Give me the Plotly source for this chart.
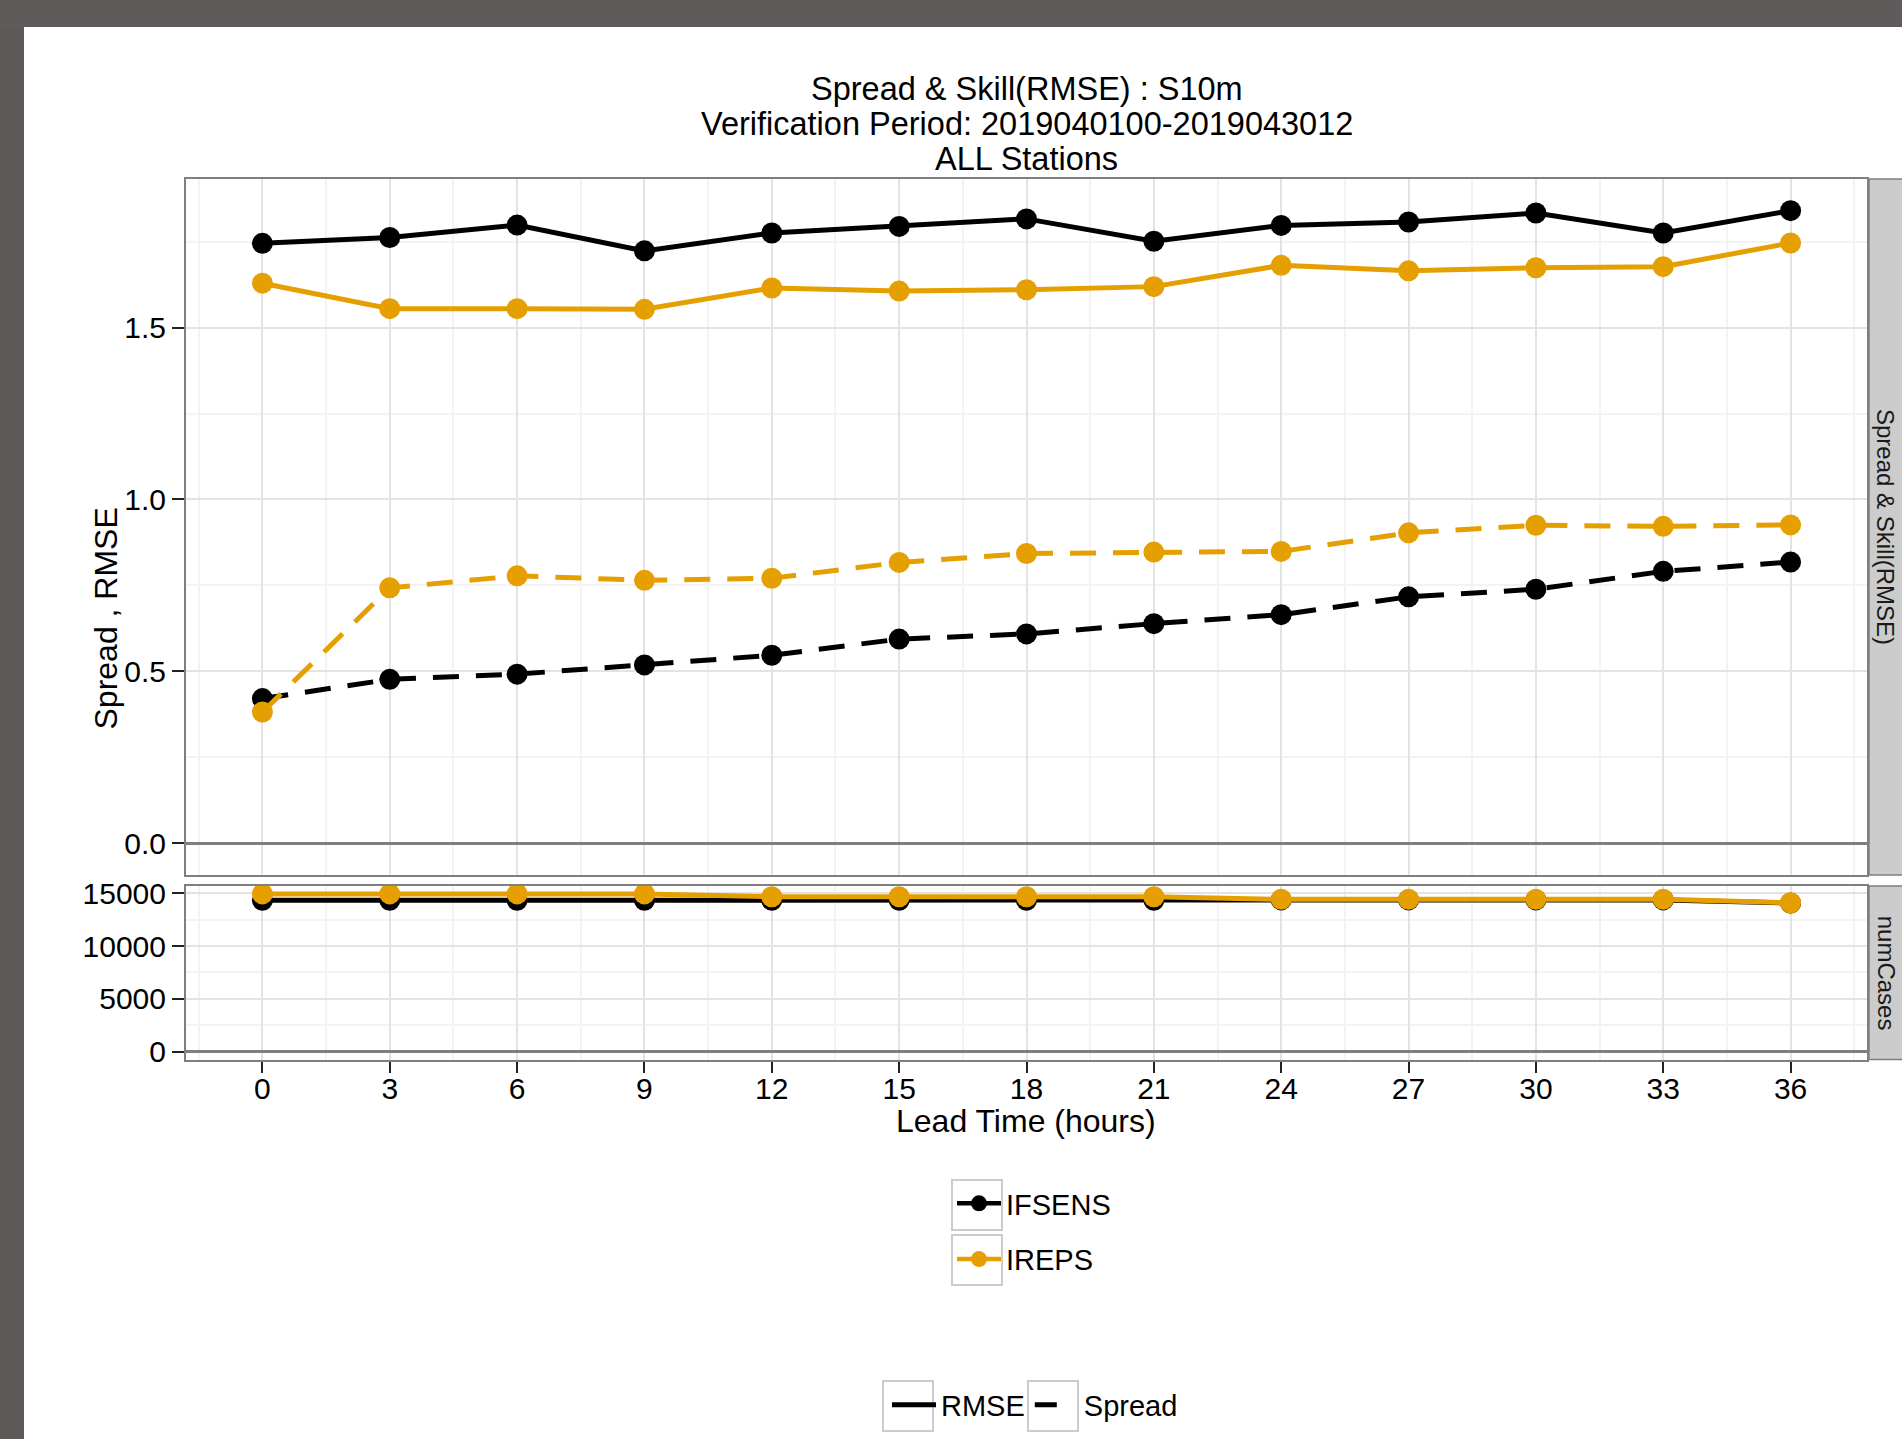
import plotly.graph_objects as go

# ---------------- data ----------------
lead_time = [0, 3, 6, 9, 12, 15, 18, 21, 24, 27, 30, 33, 36]
x_tick_vals = [0, 3, 6, 9, 12, 15, 18, 21, 24, 27, 30, 33, 36]
x_tick_text = ["0", "3", "6", "9", "12", "15", "18", "21", "24", "27", "30", "33", "36"]

ifsens_rmse = [1.745, 1.762, 1.798, 1.723, 1.775, 1.794, 1.816, 1.751, 1.797, 1.807, 1.833, 1.775, 1.840]
ireps_rmse = [1.629, 1.555, 1.555, 1.553, 1.615, 1.606, 1.610, 1.619, 1.681, 1.665, 1.674, 1.677, 1.746]
ifsens_spread = [0.421, 0.477, 0.492, 0.519, 0.547, 0.594, 0.609, 0.639, 0.665, 0.717, 0.739, 0.791, 0.818]
ireps_spread = [0.382, 0.743, 0.778, 0.765, 0.771, 0.817, 0.843, 0.847, 0.849, 0.903, 0.925, 0.922, 0.926]

ifsens_cases = [14340, 14340, 14340, 14340, 14340, 14340, 14340, 14340, 14380, 14380, 14380, 14380, 14080]
ireps_cases = [14950, 14950, 14950, 14950, 14680, 14680, 14680, 14680, 14430, 14430, 14430, 14430, 14110]

top_tick_vals = [0.0, 0.5, 1.0, 1.5]
top_tick_text = ["0.0", "0.5", "1.0", "1.5"]
cases_tick_vals = [0, 5000, 10000, 15000]
cases_tick_text = ["0", "5000", "10000", "15000"]

models = ["IFSENS", "IREPS"]
model_colors = ["#000000", "#E69F00"]

title_lines = ["Spread & Skill(RMSE) : S10m",
               "Verification Period: 2019040100-2019043012",
               "ALL Stations"]

# ---------------- geometry ----------------
W, H = 1902, 1439
FONT = "Liberation Sans, Arial, Helvetica, sans-serif"


def px(p):
    return p / W


def py(p):
    return 1 - p / H


def expand(lo, hi, f=0.05):
    d = (hi - lo) * f
    return [lo - d, hi + d]


x_range = expand(min(lead_time), max(lead_time))
top_max = max(ifsens_rmse + ireps_rmse + ifsens_spread + ireps_spread)
top_range = expand(0, top_max)
cases_max = max(ifsens_cases + ireps_cases)
cases_range = expand(0, cases_max)

PANEL_L, PANEL_R = 186, 1867
TOP_T, TOP_B = 179, 875
BOT_T, BOT_B = 886, 1059.5

fig = go.Figure()

LW = 5
MS = 21
DASH = "26px,17px"

series = [
    (ifsens_rmse, ifsens_spread, ifsens_cases),
    (ireps_rmse, ireps_spread, ireps_cases),
]
for (rmse, spread, cases), name, col in zip(series, models, model_colors):
    fig.add_trace(go.Scatter(x=lead_time, y=rmse, mode="lines+markers", name=name,
                             line=dict(color=col, width=LW), marker=dict(size=MS, color=col),
                             xaxis="x", yaxis="y", showlegend=False))
    fig.add_trace(go.Scatter(x=lead_time, y=spread, mode="lines+markers", name=name,
                             line=dict(color=col, width=LW, dash=DASH), marker=dict(size=MS, color=col),
                             xaxis="x", yaxis="y", showlegend=False))
    fig.add_trace(go.Scatter(x=lead_time, y=cases, mode="lines+markers", name=name,
                             line=dict(color=col, width=LW), marker=dict(size=MS, color=col),
                             xaxis="x2", yaxis="y2", showlegend=False))

# legend entries
for i, (name, col) in enumerate(zip(models, model_colors)):
    fig.add_trace(go.Scatter(x=[None], y=[None], mode="lines+markers", name=name,
                             line=dict(color=col, width=4.5), marker=dict(size=16, color=col),
                             legend="legend", legendgroup="g%d" % i, showlegend=True,
                             xaxis="x", yaxis="y"))
fig.add_trace(go.Scatter(x=[None], y=[None], mode="lines", name="RMSE",
                         line=dict(color="#000000", width=5), legend="legend2",
                         showlegend=True, xaxis="x", yaxis="y"))
fig.add_trace(go.Scatter(x=[None], y=[None], mode="lines", name="Spread",
                         line=dict(color="#000000", width=5, dash="22px,60px"), legend="legend2",
                         showlegend=True, xaxis="x", yaxis="y"))

GRID = "#e3e3e3"
MINOR = "#f3f3f3"
BORDER = "#7f7f7f"
TICKFONT = dict(family=FONT, size=30, color="#000000")

common_x = dict(range=x_range, domain=[px(PANEL_L), px(PANEL_R)], showgrid=True,
                gridcolor=GRID, gridwidth=1.5, zeroline=False, showline=True, mirror=True,
                linecolor=BORDER, linewidth=2, tickvals=x_tick_vals, ticktext=x_tick_text,
                minor=dict(dtick=1.5, tick0=0, showgrid=True, gridcolor=MINOR, gridwidth=1.5),
                fixedrange=True)

fig.update_layout(
    width=W, height=H,
    margin=dict(l=0, r=0, t=0, b=0, pad=0, autoexpand=False),
    paper_bgcolor="#ffffff", plot_bgcolor="#ffffff",
    font=dict(family=FONT, color="#000000"),
    xaxis=dict(common_x, anchor="y", showticklabels=False, ticks=""),
    xaxis2=dict(common_x, anchor="y2", showticklabels=True, ticks="outside", ticklen=11,
                tickwidth=2, tickcolor="#222222", tickfont=TICKFONT, ticklabelstandoff=-10),
    yaxis=dict(range=top_range, domain=[py(TOP_B), py(TOP_T)], anchor="x",
               tickvals=top_tick_vals, ticktext=top_tick_text, showgrid=True, gridcolor=GRID,
               gridwidth=1.5, zeroline=True, zerolinecolor=BORDER, zerolinewidth=2.5,
               showline=True, mirror=True, linecolor=BORDER, linewidth=2,
               ticks="outside", ticklen=12, tickwidth=2, tickcolor="#222222",
               tickfont=TICKFONT, ticklabelstandoff=0,
               minor=dict(dtick=0.25, tick0=0, showgrid=True, gridcolor=MINOR, gridwidth=1.5),
               fixedrange=True),
    yaxis2=dict(range=cases_range, domain=[py(BOT_B), py(BOT_T)], anchor="x2",
                tickvals=cases_tick_vals, ticktext=cases_tick_text, showgrid=True, gridcolor=GRID,
                gridwidth=1.5, zeroline=True, zerolinecolor=BORDER, zerolinewidth=2.5,
                showline=True, mirror=True, linecolor=BORDER, linewidth=2,
                ticks="outside", ticklen=12, tickwidth=2, tickcolor="#222222",
                tickfont=TICKFONT, ticklabelstandoff=0,
                minor=dict(dtick=2500, tick0=0, showgrid=True, gridcolor=MINOR, gridwidth=1.5),
                fixedrange=True),
    legend=dict(x=px(952), y=py(1178), xanchor="left", yanchor="top", orientation="v",
                font=dict(family=FONT, size=29, color="#000000"), itemwidth=44,
                tracegroupgap=15, bgcolor="rgba(0,0,0,0)", borderwidth=0),
    legend2=dict(x=px(887), y=py(1379.5), xanchor="left", yanchor="top", orientation="h",
                 font=dict(family=FONT, size=29, color="#000000"), itemwidth=44,
                 bgcolor="rgba(0,0,0,0)", borderwidth=0),
    showlegend=True,
)

shapes = []
# dark frame of the screenshot
shapes.append(dict(type="rect", xref="paper", yref="paper", x0=0, x1=px(24), y0=0, y1=1,
                   fillcolor="#5d5958", line=dict(width=0), layer="above"))
shapes.append(dict(type="rect", xref="paper", yref="paper", x0=0, x1=1, y0=py(27), y1=1,
                   fillcolor="#5f5b5a", line=dict(width=0), layer="above"))
# facet strips
for (t, b) in [(TOP_T, TOP_B), (BOT_T, BOT_B)]:
    shapes.append(dict(type="rect", xref="paper", yref="paper", x0=px(1869), x1=px(1912),
                       y0=py(b), y1=py(t), fillcolor="#cccccc",
                       line=dict(color=BORDER, width=1.5), layer="above"))
# legend key boxes
for (x0, y0) in [(952, 1180), (952, 1235), (883, 1381), (1028, 1381)]:
    shapes.append(dict(type="rect", xref="paper", yref="paper", x0=px(x0), x1=px(x0 + 50),
                       y0=py(y0 + 50), y1=py(y0), fillcolor="rgba(0,0,0,0)",
                       line=dict(color="#cccccc", width=2), layer="below"))
fig.update_layout(shapes=shapes)

annotations = []
for txt, yc in zip(title_lines, [89, 124, 159.5]):
    annotations.append(dict(text=txt, x=px(1026.5), y=py(yc), xref="paper", yref="paper",
                            xanchor="center", yanchor="middle", showarrow=False,
                            font=dict(family=FONT, size=32.5, color="#000000")))
annotations.append(dict(text="Spread , RMSE", x=px(105.5), y=py(619), xref="paper", yref="paper",
                        xanchor="center", yanchor="middle", textangle=-90, showarrow=False,
                        font=dict(family=FONT, size=32, color="#000000")))
annotations.append(dict(text="Lead Time (hours)", x=px(1026), y=py(1121), xref="paper", yref="paper",
                        xanchor="center", yanchor="middle", showarrow=False,
                        font=dict(family=FONT, size=32, color="#000000")))
annotations.append(dict(text="Spread & Skill(RMSE)", x=px(1886), y=py((TOP_T + TOP_B) / 2),
                        xref="paper", yref="paper", xanchor="center", yanchor="middle",
                        textangle=90, showarrow=False,
                        font=dict(family=FONT, size=24, color="#1a1a1a")))
annotations.append(dict(text="numCases", x=px(1886), y=py((BOT_T + BOT_B) / 2),
                        xref="paper", yref="paper", xanchor="center", yanchor="middle",
                        textangle=90, showarrow=False,
                        font=dict(family=FONT, size=24, color="#1a1a1a")))
fig.update_layout(annotations=annotations)

fig.write_html("out.html", config={"displayModeBar": False},
               post_script="document.body.style.margin='0px';"
                           "document.body.style.overflow='hidden';")
